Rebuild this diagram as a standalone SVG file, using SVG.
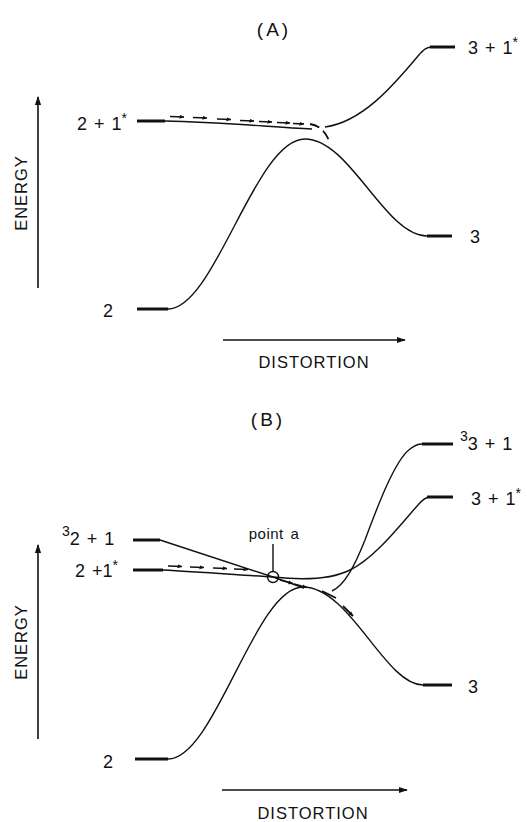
<svg xmlns="http://www.w3.org/2000/svg" width="527" height="822" viewBox="0 0 527 822">
<style>
text{font-family:"Liberation Sans",Arial,sans-serif;font-size:18px;fill:#111;word-spacing:2px}
.ttl{letter-spacing:3px;font-size:19px}
.ax{letter-spacing:1px;font-size:16.5px;word-spacing:0}
.sup{font-size:14px}
.c{fill:none;stroke:#111;stroke-width:1.4}
.lv{fill:none;stroke:#111;stroke-width:3}
.axl{fill:none;stroke:#111;stroke-width:1.6}
.ar{fill:none;stroke:#111;stroke-width:1.3}
.dash{fill:none;stroke:#111;stroke-width:1.8;stroke-dasharray:10 5}
</style>
<defs>
<marker id="ah" viewBox="0 0 10 10" refX="9" refY="5" markerWidth="5" markerHeight="5" markerUnits="userSpaceOnUse" orient="auto"><path d="M0,1 L10,5 L0,9 z" fill="#111"/></marker>
<marker id="axh" viewBox="0 0 10 10" refX="9" refY="5" markerWidth="9" markerHeight="9" markerUnits="userSpaceOnUse" orient="auto"><path d="M0,1.5 L10,5 L0,8.5 z" fill="#111"/></marker>
</defs>
<rect width="527" height="822" fill="#fff"/>

<g id="panel-a">
<text class="ttl" x="274" y="36" text-anchor="middle">(A)</text>
<g id="axes-a">
<line class="axl" x1="38" y1="288" x2="38" y2="97" marker-end="url(#axh)"/>
<text class="ax" transform="translate(27,193) rotate(-90)" text-anchor="middle">ENERGY</text>
<line class="axl" x1="223" y1="340" x2="405" y2="340" marker-end="url(#axh)"/>
<text class="ax" x="314" y="368" text-anchor="middle">DISTORTION</text>
</g>
<g id="labels-a">
<text x="77" y="130">2 + 1<tspan class="sup" dy="-7">*</tspan></text>
<text x="468" y="54">3 + 1<tspan class="sup" dy="-7">*</tspan></text>
<text x="103" y="317">2</text>
<text x="470" y="243">3</text>
</g>
<g id="curves-a">
<path class="lv" d="M137,121 L165,121"/>
<path class="lv" d="M430,47 L455,47"/>
<path class="lv" d="M137,309 L168,309"/>
<path class="lv" d="M427,236 L452,236"/>
<path class="c" d="M165,121 C 220,122 270,127 312,129"/>
<path class="c" d="M325,127 C 362,122 393,86 418,56 C 424,49 427,47 432,47"/>
<path class="c" d="M168,309 C 215,309 255,139 305,139 C 350,139 385,236 427,236"/>
</g>
<g id="path-a">
<line class="ar" x1="170" y1="116.5" x2="184" y2="117" marker-end="url(#ah)"/>
<line class="ar" x1="193" y1="117.5" x2="207" y2="118" marker-end="url(#ah)"/>
<line class="ar" x1="217" y1="119" x2="231" y2="119.5" marker-end="url(#ah)"/>
<line class="ar" x1="240" y1="120.5" x2="254" y2="121" marker-end="url(#ah)"/>
<line class="ar" x1="259" y1="121.5" x2="272" y2="122" marker-end="url(#ah)"/>
<line class="ar" x1="277" y1="122.5" x2="290" y2="123" marker-end="url(#ah)"/>
<line class="ar" x1="293" y1="123.5" x2="304" y2="124" marker-end="url(#ah)"/>
<path class="dash" d="M310,124 Q 324,126 330,143"/>
</g>
</g>

<g id="panel-b">
<text class="ttl" x="268" y="426" text-anchor="middle">(B)</text>
<g id="axes-b">
<line class="axl" x1="38" y1="739" x2="38" y2="545" marker-end="url(#axh)"/>
<text class="ax" transform="translate(27,642) rotate(-90)" text-anchor="middle">ENERGY</text>
<line class="axl" x1="222" y1="790" x2="407" y2="790" marker-end="url(#axh)"/>
<text class="ax" x="313" y="819" text-anchor="middle">DISTORTION</text>
</g>
<g id="labels-b">
<text x="62" y="545"><tspan class="sup" dy="-9">3</tspan><tspan dy="9">2 + 1</tspan></text>
<text x="75" y="577">2 +1<tspan class="sup" dy="-7">*</tspan></text>
<text x="460" y="450"><tspan class="sup" dy="-9">3</tspan><tspan dy="9">3 + 1</tspan></text>
<text x="471" y="505">3 + 1<tspan class="sup" dy="-7">*</tspan></text>
<text x="103" y="768">2</text>
<text x="468" y="693">3</text>
<text x="274" y="539" text-anchor="middle" style="font-size:15px;letter-spacing:0.5px">point a</text>
</g>
<g id="curves-b">
<path class="lv" d="M133,540 L160,540"/>
<path class="lv" d="M133,570 L163,570"/>
<path class="lv" d="M422,444 L453,444"/>
<path class="lv" d="M427,497 L453,497"/>
<path class="lv" d="M135,759 L168,759"/>
<path class="lv" d="M423,685 L452,685"/>
<path class="c" d="M160,540 C 200,553 240,566 273,577 C 285,581 295,585 304,588"/>
<path class="c" d="M163,570 C 200,572 240,575 273,577 C 300,580 330,580 350,570 C 375,558 400,525 418,505 C 423,499 426,497 430,497"/>
<path class="c" d="M332,591 C 345,585 355,565 365,540 C 378,505 395,460 410,449 C 415,445 418,444 422,444"/>
<path class="c" d="M168,759 C 215,759 255,587 303,587 C 350,587 385,685 423,685"/>
<line class="c" x1="273" y1="544" x2="273" y2="572"/>
<circle cx="273" cy="577" r="5.5" fill="none" stroke="#111" stroke-width="1.4"/>
</g>
<g id="path-b">
<line class="ar" x1="168" y1="566" x2="182" y2="566.5" marker-end="url(#ah)"/>
<line class="ar" x1="190" y1="567" x2="204" y2="567.5" marker-end="url(#ah)"/>
<line class="ar" x1="213" y1="568" x2="227" y2="568.5" marker-end="url(#ah)"/>
<line class="ar" x1="234" y1="569" x2="248" y2="569.5" marker-end="url(#ah)"/>
<line class="ar" x1="280" y1="580" x2="293" y2="583.5" marker-end="url(#ah)"/>
<line class="ar" x1="294" y1="584" x2="307" y2="587.5" marker-end="url(#ah)"/>
<line class="ar" style="stroke-width:1.8" x1="322" y1="591" x2="336" y2="598"/>
<line class="ar" style="stroke-width:1.8" x1="343" y1="606" x2="353" y2="616" marker-end="url(#ah)"/>
</g>
</g>
</svg>
